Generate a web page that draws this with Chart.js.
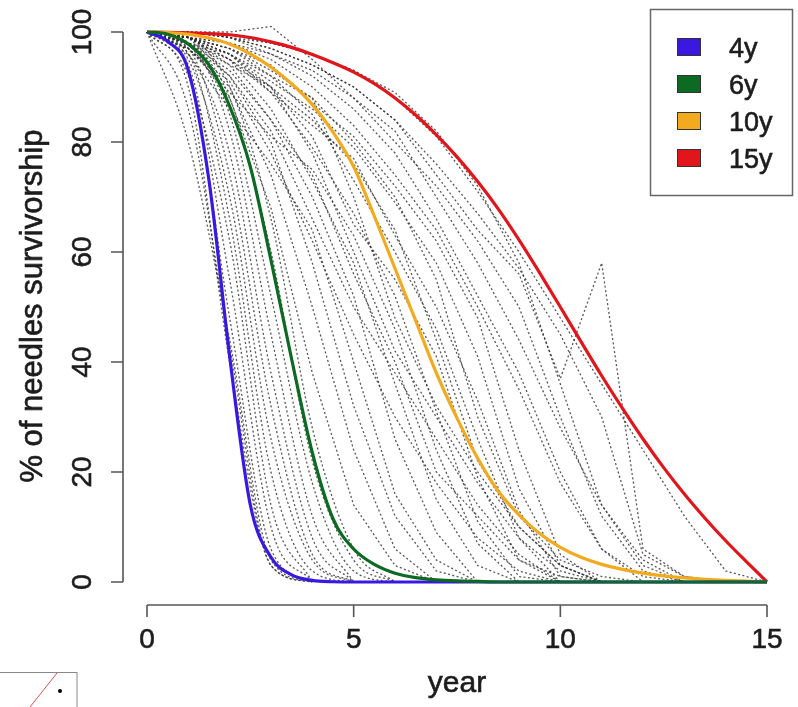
<!DOCTYPE html>
<html><head><meta charset="utf-8">
<script src="https://cdn.jsdelivr.net/npm/chart.js@4.4.1/dist/chart.umd.min.js"></script>
<style>html,body{margin:0;padding:0;background:#fff;}canvas{display:block;}</style>
</head><body>
<canvas id="c" width="798" height="707"></canvas>
<script>
// ---- data ----
const fitYears = [0,0.5,1,1.5,2,2.5,3,3.5,4,4.5,5,5.5,6,6.5,7,7.5,8,8.5,9,9.5,10,10.5,11,11.5,12,12.5,13,13.5,14,14.5,15];
const fit4y  = [100,98.3,93,73,41,14,4.5,1.3,0.3,0.05,0,0,0,0,0,0,0,0,0,0,0,0,0,0,0,0,0,0,0,0,0];
const fit6y  = [100,99.6,97.8,94,86.5,75.5,58.5,40.5,23.5,11.5,6,3.2,1.6,0.8,0.4,0.2,0.1,0,0,0,0,0,0,0,0,0,0,0,0,0,0];
const fit10y = [100,99.9,99.6,98.9,97.8,96,93.6,90.6,86.8,81.8,75.5,66.5,57,47.5,38,29.8,22.5,16.5,12.2,8.8,6.3,4.5,3.2,2.3,1.6,1.1,0.75,0.5,0.3,0.15,0];
const fit15y = [100,99.95,99.85,99.7,99.5,99,98.2,97.2,95.9,94.4,92.7,90.6,88,84.9,81.3,77.3,72.8,67.8,62.2,56.2,50,43.7,37.5,31.6,26,20.8,16,11.6,7.5,3.7,0];

const obsYears = [0,1,2,3,4,5,6,7,8,9,10,11,12,13,14,15];
const obsFast = [
  [100,80,44,4,0],
  [100,86,43,3,0],
  [100,90,40,3,0],
  [100,93,48,6,0],
  [100,94,55,10,0],
  [100,92,62,14,0],
  [100,96,66,20,2,0],
  [100,95,70,26,4,0],
  [100,97,74,32,5,0],
  [100,96,78,38,8,0],
  [100,98,82,45,12,0],
  [100,97,85,52,18,2,0],
  [100,98,88,60,22,4,0],
  [100,99,90,66,28,6,0]
];
const obsMedium = [
  [100,98,88,68,38,14,3,0],
  [100,97,90,74,50,24,6,0],
  [100,99,92,80,58,32,12,2,0],
  [100,96,86,76,64,40,16,4,0],
  [100,98,93,84,70,52,26,9,0],
  [100,99,95,86,73,58,36,15,3,0],
  [100,97,89,81,75,63,46,24,7,0],
  [100,99,96,89,79,67,52,31,11,1,0],
  [100,98,94,90,81,65,55,41,19,4,0],
  [100,99,97,92,85,73,60,46,26,8,0],
  [100,99,95,89,83,77,63,50,33,13,1,0],
  [100,98,96,91,86,79,69,58,41,17,3,0],
  [100,99,97,94,87,81,72,62,48,24,5,0],
  [100,99,96,90,78,60,42,30,18,8,2,0],
  [100,98,92,82,66,50,38,26,14,5,0],
  [100,99,94,84,74,56,40,20,12,4,1,0],
  [100,97,91,78,62,45,30,18,8,2,0],
  [100,99,96,92,88,70,48,32,20,10,3,0],
  [100,99,97,93,88,80,70,55,30,12,4,1,0],
  [100,98,95,90,84,76,64,44,22,10,3,0]
];
const obsSlow = [
  [100,100,99,96,92,86,78,66,52,38,20,6,0],
  [100,100,99,97,94,90,84,74,64,56,37,58,6,1,0],
  [100,100,100,101,95,88,80,72,62,50,30,12,2,0],
  [100,100,99.5,98,96,93,88,81,71,60,48,36,24,12,2,0],
  [100,100,99,97,94,90,84,76,67,57,45,30,5,1,0],
  [100,99,98,95,90,83,74,64,50,35,18,6,1,0],
  [100,100,99,98,96,93,89,82,72,58,36,14,3,0],
  [100,99,98,96,93,88,82,70,58,44,28,14,4,0]
];

const seriesNames  = ['4y','6y','10y','15y'];
const seriesColors = ['#3a18e0','#0c6a22','#f2aa1f','#e2151b'];
const xTicks = [0,5,10,15];
const yTicks = [0,20,40,60,80,100];
const xTitle = 'year';
const yTitle = '% of needles survivorship';

// ---- build datasets ----
const fits = [fit4y, fit6y, fit10y, fit15y];
const fitOrder = [1,0,2,3];
const datasets = [];
fits.forEach((arr,i)=>{
  datasets.push({
    label: seriesNames[i],
    data: arr.map((v,k)=>({x:fitYears[k], y:v})),
    borderColor: seriesColors[i],
    borderWidth: 3.2,
    pointRadius: 0,
    cubicInterpolationMode: 'monotone',
    clip: false,
    order: fitOrder[i]
  });
});
const allObs = [...obsFast, ...obsMedium, ...obsSlow];
allObs.forEach((arr,i)=>{
  datasets.push({
    label: 'obs'+i,
    data: arr.map((v,k)=>({x:obsYears[k], y:v})),
    borderColor: 'rgba(45,45,45,0.8)',
    borderWidth: 1.3,
    borderDash: [2,2.4],
    pointRadius: 0,
    tension: 0,
    cubicInterpolationMode: i < obsFast.length ? 'monotone' : 'default',
    clip: false,
    order: 10
  });
});

const FONT = '"Liberation Sans", Arial, Helvetica, sans-serif';
function txt(ctx, s, x, y){ ctx.fillText(s, x, y); ctx.strokeText(s, x, y); }

const rDecor = {
  id: 'rDecor',
  afterDraw(chart){
    const ctx = chart.ctx, xs = chart.scales.x, ys = chart.scales.y, ca = chart.chartArea;
    ctx.save();
    // x axis
    const axY = ca.bottom + 23;
    ctx.strokeStyle = '#555'; ctx.lineWidth = 1.6;
    ctx.beginPath();
    ctx.moveTo(xs.getPixelForValue(xTicks[0]), axY);
    ctx.lineTo(xs.getPixelForValue(xTicks[xTicks.length-1]), axY);
    xTicks.forEach(v=>{const p = xs.getPixelForValue(v); ctx.moveTo(p, axY); ctx.lineTo(p, axY+12);});
    ctx.stroke();
    ctx.fillStyle = '#1c1c1c'; ctx.strokeStyle = '#1c1c1c'; ctx.lineWidth = 0.6;
    ctx.font = '28px ' + FONT;
    ctx.textAlign = 'center'; ctx.textBaseline = 'alphabetic';
    xTicks.forEach(v=>{txt(ctx, String(v), xs.getPixelForValue(v), axY+43);});
    ctx.font = '30px ' + FONT;
    txt(ctx, xTitle, (ca.left+ca.right)/2, 692);
    // y axis
    const axX = ca.left - 24;
    ctx.strokeStyle = '#555'; ctx.lineWidth = 1.6;
    ctx.beginPath();
    ctx.moveTo(axX, ys.getPixelForValue(yTicks[0]));
    ctx.lineTo(axX, ys.getPixelForValue(yTicks[yTicks.length-1]));
    yTicks.forEach(v=>{const p = ys.getPixelForValue(v); ctx.moveTo(axX, p); ctx.lineTo(axX-12, p);});
    ctx.stroke();
    ctx.strokeStyle = '#1c1c1c'; ctx.lineWidth = 0.6;
    ctx.font = '28px ' + FONT;
    yTicks.forEach(v=>{
      ctx.save(); ctx.translate(axX-32, ys.getPixelForValue(v)); ctx.rotate(-Math.PI/2);
      ctx.textAlign = 'center'; txt(ctx, String(v), 0, 0); ctx.restore();
    });
    ctx.save(); ctx.translate(42, 306); ctx.rotate(-Math.PI/2);
    ctx.font = '31px ' + FONT; ctx.textAlign = 'center'; txt(ctx, yTitle, 0, 0); ctx.restore();
    // legend
    ctx.strokeStyle = '#666'; ctx.lineWidth = 1.5;
    ctx.strokeRect(650.5, 9.5, 142, 186);
    ctx.font = '27px ' + FONT; ctx.textAlign = 'left';
    seriesNames.forEach((n,i)=>{
      const cy = 47 + i*37;
      ctx.fillStyle = seriesColors[i];
      ctx.fillRect(677, cy-9, 24, 18);
      ctx.strokeStyle = '#333'; ctx.lineWidth = 1;
      ctx.strokeRect(677.5, cy-8.5, 23, 17);
      ctx.fillStyle = '#1c1c1c'; ctx.strokeStyle = '#1c1c1c'; ctx.lineWidth = 0.6;
      txt(ctx, n, 729, cy+10);
    });
    // small inset remnant at bottom-left
    ctx.strokeStyle = '#888'; ctx.lineWidth = 1;
    ctx.strokeRect(-1, 672.5, 78, 40);
    ctx.strokeStyle = '#e05050'; ctx.beginPath(); ctx.moveTo(30, 707); ctx.lineTo(57, 673); ctx.stroke();
    ctx.fillStyle = '#000'; ctx.beginPath(); ctx.arc(60, 691, 2, 0, Math.PI*2); ctx.fill();
    ctx.restore();
  }
};

new Chart(document.getElementById('c'), {
  type: 'line',
  data: { datasets },
  options: {
    responsive: false,
    animation: false,
    events: [],
    layout: { padding: { left: 147, right: 31, top: 32, bottom: 125 } },
    plugins: { legend: { display: false }, tooltip: { enabled: false } },
    scales: {
      x: { type: 'linear', min: 0, max: 15, display: false },
      y: { type: 'linear', min: 0, max: 100, display: false }
    }
  },
  plugins: [rDecor]
});
</script>
</body></html>
